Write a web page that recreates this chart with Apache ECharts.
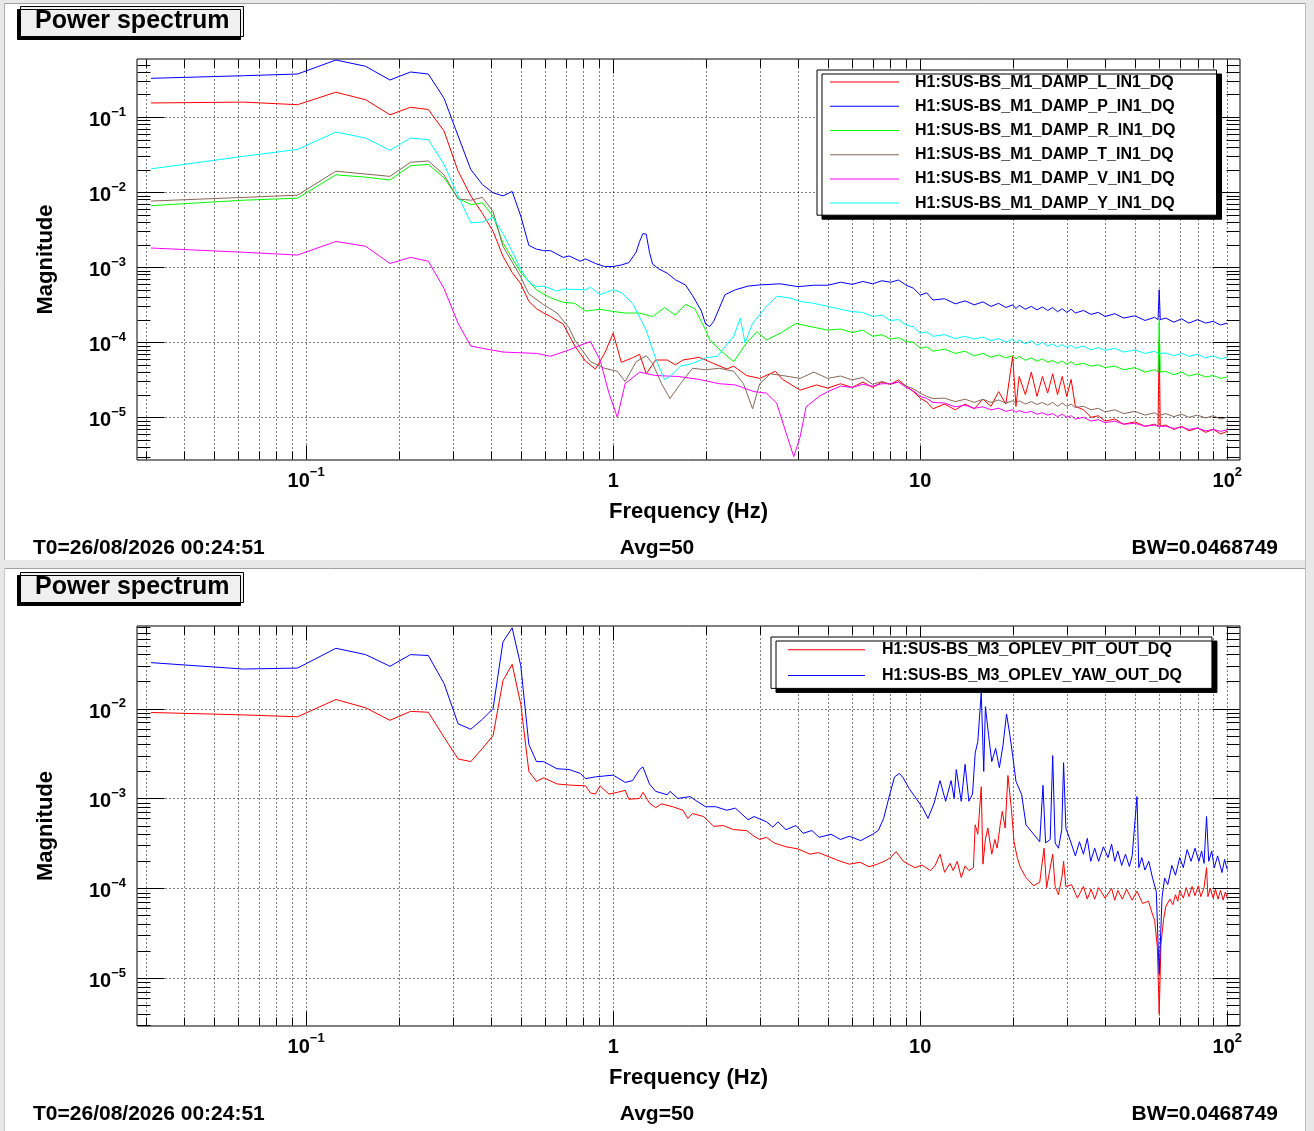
<!DOCTYPE html>
<html>
<head>
<meta charset="utf-8">
<script src="https://cdn.jsdelivr.net/npm/echarts@6/dist/echarts.min.js"></script>
<style>
html, body { margin: 0; padding: 0; background: #fff; }
#chart { width: 1314px; height: 1131px; }
</style>
</head>
<body>
<div id="chart"></div>
<script>
var FONT = '"Liberation Sans", Arial, Helvetica, sans-serif';

// axis ranges (Hz / magnitude)
var xRange = [0.028125, 110];
var yRangeTop = [2.7e-6, 0.593];
var yRangeBottom = [2.95e-6, 0.0828];
var tickExponents = [-6, -5, -4, -3, -2, -1, 0, 1, 2];
var tickMultipliers = [1, 2, 3, 4, 5, 6, 7, 8, 9];

var topNames = ['H1:SUS-BS_M1_DAMP_L_IN1_DQ', 'H1:SUS-BS_M1_DAMP_P_IN1_DQ', 'H1:SUS-BS_M1_DAMP_R_IN1_DQ',
  'H1:SUS-BS_M1_DAMP_T_IN1_DQ', 'H1:SUS-BS_M1_DAMP_V_IN1_DQ', 'H1:SUS-BS_M1_DAMP_Y_IN1_DQ'];
var topColors = ['#ff0000', '#0000ff', '#00ff00', '#876656', '#ff00ff', '#00ffff'];
var bottomNames = ['H1:SUS-BS_M3_OPLEV_PIT_OUT_DQ', 'H1:SUS-BS_M3_OPLEV_YAW_OUT_DQ'];
var bottomColors = ['#ff0000', '#0000ff'];

// first frequency bins, shared by every channel
var lowBins = [0.03125, 0.0625, 0.09375, 0.125, 0.15625, 0.1875, 0.21875, 0.25, 0.28125];
// high frequency grid of the top panel
var hiFreqTop = [5, 5.5, 6, 6.5, 7, 7.5, 8, 8.5, 9, 9.5,
  10, 10.5, 11, 12, 13, 14, 15, 16, 17, 18,
  19, 20, 20.5, 21, 22, 23, 24, 25, 26, 27,
  28, 29, 30, 31, 32, 34, 36, 38, 40, 43,
  46, 50, 54, 58, 59.5, 60, 60.5, 63, 67, 71,
  75, 80, 85, 90, 95, 100];

// ---- top panel: M1 DAMP channels ----
var lowL = [0.154, 0.158, 0.146, 0.214, 0.17, 0.107, 0.135, 0.126, 0.065];
var midL = [[0.3125, 1.9e-2], [0.34375, 8.9e-3], [0.375, 5.2e-3], [0.40625, 3.0e-3], [0.4375, 1.4e-3],
  [0.46875, 8.5e-4], [0.5, 6.0e-4], [0.53125, 3.5e-4], [0.5625, 2.8e-4], [0.59375, 2.45e-4], [0.625, 2.2e-4],
  [0.6875, 1.74e-4], [0.75, 8.9e-5], [0.8125, 5.6e-5], [0.875, 4.4e-5], [0.9375, 7.1e-5], [1.0, 1.32e-4],
  [1.0625, 5.4e-5], [1.15625, 6.2e-5], [1.21875, 6.9e-5], [1.28125, 3.8e-5], [1.375, 5.8e-5], [1.5, 5.8e-5],
  [1.59375, 5.0e-5], [1.6875, 5.8e-5], [1.90625, 6.3e-5], [2.125, 5.2e-5], [2.34375, 4.4e-5], [2.46875, 4.8e-5],
  [2.71875, 3.6e-5], [3.0, 3.3e-5], [3.375, 4.1e-5], [3.5625, 3.2e-5], [4.0625, 2.3e-5], [4.59375, 2.7e-5]];
var hiL = [2.45e-5, 2.8e-5, 2.5e-5, 2.95e-5, 2.5e-5, 2.95e-5, 2.75e-5, 3.15e-5, 2.6e-5, 2.2e-5,
  1.8e-5, 1.6e-5, 1.3e-5, 1.5e-5, 1.26e-5, 1.5e-5, 1.3e-5, 1.75e-5, 1.4e-5, 2.2e-5,
  1.5e-5, 6.5e-5, 1.4e-5, 3.5e-5, 2.0e-5, 4.0e-5, 1.9e-5, 3.5e-5, 2.1e-5, 3.8e-5,
  2.0e-5, 3.5e-5, 1.9e-5, 3.2e-5, 1.4e-5, 1.26e-5, 1.0e-5, 1.05e-5, 8.9e-6, 9.5e-6,
  8.1e-6, 8.7e-6, 7.6e-6, 8.1e-6, 7.6e-6, 1.07e-4, 7.6e-6, 7.9e-6, 6.9e-6, 7.6e-6,
  6.6e-6, 7.2e-6, 6.3e-6, 6.9e-6, 6.0e-6, 6.5e-6];

var lowP = [0.328, 0.355, 0.374, 0.575, 0.474, 0.311, 0.398, 0.374, 0.178];
var midP = [[0.3125, 5.6e-2], [0.34375, 2.0e-2], [0.375, 1.26e-2], [0.40625, 9.8e-3], [0.4375, 8.9e-3],
  [0.46875, 1.02e-2], [0.5, 4.8e-3], [0.53125, 1.95e-3], [0.5625, 1.74e-3], [0.59375, 1.66e-3], [0.625, 1.66e-3],
  [0.6875, 1.35e-3], [0.71875, 1.41e-3], [0.78125, 1.2e-3], [0.8125, 1.29e-3], [0.875, 1.12e-3], [0.9375, 1.02e-3],
  [1.0, 1.02e-3], [1.0625, 1.07e-3], [1.125, 1.15e-3], [1.1875, 1.58e-3], [1.21875, 2.2e-3], [1.25, 2.8e-3],
  [1.28125, 2.75e-3], [1.3125, 1.58e-3], [1.34375, 1.1e-3], [1.40625, 9.5e-4], [1.5, 8.3e-4], [1.59375, 6.8e-4],
  [1.71875, 5.8e-4], [1.8125, 4.2e-4], [1.9375, 2.6e-4], [2.0, 1.74e-4], [2.0625, 1.62e-4], [2.125, 1.9e-4],
  [2.3125, 4.3e-4], [2.5, 5.0e-4], [2.75, 5.6e-4], [3.0, 5.8e-4], [3.5, 6.0e-4], [4.0, 5.5e-4], [4.5, 5.75e-4]];
var hiP = [5.75e-4, 6.3e-4, 5.9e-4, 6.45e-4, 6.0e-4, 6.6e-4, 6.3e-4, 6.75e-4, 5.75e-4, 5.25e-4,
  4.25e-4, 4.55e-4, 3.65e-4, 3.8e-4, 3.25e-4, 3.55e-4, 3.15e-4, 3.45e-4, 3.0e-4, 3.3e-4,
  2.9e-4, 3.15e-4, 2.8e-4, 3.1e-4, 2.75e-4, 3.0e-4, 2.7e-4, 2.95e-4, 2.65e-4, 2.9e-4,
  2.55e-4, 2.8e-4, 2.5e-4, 2.75e-4, 2.45e-4, 2.65e-4, 2.35e-4, 2.5e-4, 2.2e-4, 2.4e-4,
  2.1e-4, 2.25e-4, 1.95e-4, 2.15e-4, 2.0e-4, 5.0e-4, 2.0e-4, 2.1e-4, 1.85e-4, 2.05e-4,
  1.8e-4, 2.0e-4, 1.8e-4, 1.9e-4, 1.7e-4, 1.8e-4];

var lowR = [0.0066, 0.0078, 0.0083, 0.017, 0.0158, 0.0145, 0.0224, 0.0234, 0.0155];
var midR = [[0.3125, 8.3e-3], [0.34375, 6.8e-3], [0.375, 7.2e-3], [0.40625, 4.8e-3], [0.4375, 2.1e-3],
  [0.46875, 1.32e-3], [0.5, 8.5e-4], [0.5625, 5.0e-4], [0.625, 3.9e-4], [0.6875, 3.4e-4], [0.75, 3.3e-4],
  [0.8125, 2.6e-4], [0.90625, 2.75e-4], [1.0, 2.57e-4], [1.09375, 2.45e-4], [1.21875, 2.45e-4], [1.34375, 2.2e-4],
  [1.46875, 2.9e-4], [1.59375, 2.3e-4], [1.71875, 3.2e-4], [1.84375, 2.8e-4], [2.0, 1.45e-4], [2.0625, 1.07e-4],
  [2.25, 7.6e-5], [2.46875, 5.5e-5], [2.71875, 9.8e-5], [2.9375, 1.38e-4], [3.15625, 1.07e-4], [3.5, 1.32e-4],
  [3.9375, 1.78e-4], [4.375, 1.62e-4]];
var hiR = [1.45e-4, 1.5e-4, 1.35e-4, 1.45e-4, 1.2e-4, 1.26e-4, 1.1e-4, 1.15e-4, 1.02e-4, 1.0e-4,
  8.3e-5, 8.7e-5, 7.6e-5, 8.1e-5, 7.1e-5, 7.6e-5, 6.6e-5, 7.1e-5, 6.3e-5, 6.8e-5,
  6.2e-5, 6.6e-5, 6.0e-5, 6.5e-5, 5.75e-5, 6.2e-5, 5.6e-5, 6.0e-5, 5.4e-5, 5.75e-5,
  5.25e-5, 5.6e-5, 5.1e-5, 5.5e-5, 5.0e-5, 5.25e-5, 4.8e-5, 5.0e-5, 4.6e-5, 4.8e-5,
  4.3e-5, 4.6e-5, 4.0e-5, 4.3e-5, 4.0e-5, 1.9e-4, 4.0e-5, 4.1e-5, 3.7e-5, 4.0e-5,
  3.55e-5, 3.8e-5, 3.45e-5, 3.6e-5, 3.3e-5, 3.45e-5];

var lowT = [0.0076, 0.0085, 0.0091, 0.019, 0.0174, 0.0162, 0.025, 0.026, 0.017];
var midT = [[0.3125, 8.1e-3], [0.34375, 7.8e-3], [0.375, 8.5e-3], [0.40625, 5.5e-3], [0.4375, 1.9e-3],
  [0.46875, 1.17e-3], [0.5, 7.4e-4], [0.53125, 4.4e-4], [0.59375, 3.16e-4], [0.65625, 2.45e-4], [0.71875, 1.55e-4],
  [0.75, 1.07e-4], [0.84375, 5.5e-5], [0.9375, 4.5e-5], [1.03125, 4.1e-5], [1.09375, 3.0e-5], [1.1875, 5.5e-5],
  [1.28125, 6.6e-5], [1.34375, 5.2e-5], [1.4375, 2.8e-5], [1.53125, 1.78e-5], [1.65625, 2.8e-5], [1.8125, 4.5e-5],
  [2.0, 4.3e-5], [2.21875, 4.5e-5], [2.46875, 4.1e-5], [2.65625, 2.8e-5], [2.84375, 1.3e-5], [3.0, 2.8e-5],
  [3.25, 3.8e-5], [3.5625, 3.6e-5], [4.0625, 3.3e-5], [4.5, 4.0e-5]];
var hiT = [3.3e-5, 3.55e-5, 3.15e-5, 3.4e-5, 2.75e-5, 3.0e-5, 2.75e-5, 2.95e-5, 2.6e-5, 2.4e-5,
  2.1e-5, 1.9e-5, 1.78e-5, 1.8e-5, 1.62e-5, 1.74e-5, 1.58e-5, 1.74e-5, 1.58e-5, 1.7e-5,
  1.55e-5, 1.66e-5, 1.55e-5, 1.66e-5, 1.5e-5, 1.62e-5, 1.48e-5, 1.58e-5, 1.45e-5, 1.58e-5,
  1.4e-5, 1.55e-5, 1.4e-5, 1.5e-5, 1.35e-5, 1.4e-5, 1.26e-5, 1.32e-5, 1.18e-5, 1.26e-5,
  1.12e-5, 1.2e-5, 1.07e-5, 1.15e-5, 1.07e-5, 1.12e-5, 1.07e-5, 1.12e-5, 1.02e-5, 1.1e-5,
  1.0e-5, 1.07e-5, 9.8e-6, 1.05e-5, 9.5e-6, 1.0e-5];

var lowV = [0.0018, 0.00158, 0.00145, 0.0022, 0.0019, 0.00112, 0.00135, 0.0012, 0.00052];
var midV = [[0.3125, 1.78e-4], [0.34375, 8.9e-5], [0.375, 8.3e-5], [0.4375, 7.4e-5], [0.5625, 7.1e-5],
  [0.625, 6.5e-5], [0.71875, 7.9e-5], [0.78125, 9.1e-5], [0.84375, 1.02e-4], [0.90625, 5.8e-5], [0.96875, 2.1e-5],
  [1.03125, 1.0e-5], [1.09375, 2.8e-5], [1.21875, 4.0e-5], [1.375, 3.6e-5], [1.625, 3.5e-5], [1.90625, 3.2e-5],
  [2.21875, 2.8e-5], [2.5, 2.7e-5], [2.875, 2.2e-5], [3.15625, 2.1e-5], [3.40625, 1.55e-5], [3.65625, 6.2e-6],
  [3.875, 3.0e-6], [4.0625, 5.5e-6], [4.25, 1.38e-5], [4.6875, 1.9e-5]];
var hiV = [2.2e-5, 2.6e-5, 2.5e-5, 2.75e-5, 2.6e-5, 2.8e-5, 2.8e-5, 2.95e-5, 2.5e-5, 2.25e-5,
  1.9e-5, 1.78e-5, 1.58e-5, 1.55e-5, 1.38e-5, 1.45e-5, 1.32e-5, 1.38e-5, 1.26e-5, 1.32e-5,
  1.2e-5, 1.26e-5, 1.17e-5, 1.23e-5, 1.15e-5, 1.2e-5, 1.1e-5, 1.15e-5, 1.07e-5, 1.12e-5,
  1.02e-5, 1.1e-5, 1.0e-5, 1.05e-5, 9.5e-6, 1.0e-5, 8.9e-6, 9.3e-6, 8.5e-6, 8.9e-6,
  8.1e-6, 8.3e-6, 7.6e-6, 7.9e-6, 7.6e-6, 7.8e-6, 7.6e-6, 7.6e-6, 7.1e-6, 7.4e-6,
  6.9e-6, 7.2e-6, 6.6e-6, 6.9e-6, 6.5e-6, 6.8e-6];

var lowY = [0.0204, 0.030, 0.037, 0.063, 0.0525, 0.036, 0.0525, 0.05, 0.0235];
var midY = [[0.3125, 8.9e-3], [0.34375, 3.9e-3], [0.375, 4.0e-3], [0.40625, 4.6e-3], [0.4375, 2.8e-3],
  [0.46875, 1.62e-3], [0.5, 9.5e-4], [0.53125, 6.3e-4], [0.5625, 5.5e-4], [0.59375, 5.6e-4], [0.65625, 4.8e-4],
  [0.6875, 5.1e-4], [0.8125, 5.0e-4], [0.84375, 5.4e-4], [0.90625, 4.3e-4], [1.0, 5.0e-4], [1.0625, 4.6e-4],
  [1.15625, 3.3e-4], [1.28125, 1.45e-4], [1.375, 6.0e-5], [1.46875, 3.2e-5], [1.53125, 3.5e-5], [1.65625, 4.8e-5],
  [1.8125, 5.2e-5], [2.0, 6.2e-5], [2.1875, 6.5e-5], [2.3125, 8.7e-5], [2.46875, 1.2e-4], [2.59375, 2.1e-4],
  [2.6875, 9.8e-5], [2.84375, 1.78e-4], [3.15625, 3.0e-4], [3.40625, 4.1e-4], [3.75, 3.9e-4], [4.0625, 3.5e-4],
  [4.5, 3.3e-4]];
var hiY = [3.0e-4, 2.75e-4, 2.55e-4, 2.5e-4, 2.2e-4, 2.3e-4, 1.95e-4, 2.0e-4, 1.7e-4, 1.6e-4,
  1.32e-4, 1.38e-4, 1.2e-4, 1.26e-4, 1.12e-4, 1.2e-4, 1.1e-4, 1.17e-4, 1.05e-4, 1.12e-4,
  1.0e-4, 1.1e-4, 9.8e-5, 1.07e-4, 9.5e-5, 1.05e-4, 9.1e-5, 1.0e-4, 8.9e-5, 9.5e-5,
  8.7e-5, 9.3e-5, 8.5e-5, 9.1e-5, 8.3e-5, 8.9e-5, 7.9e-5, 8.5e-5, 7.8e-5, 8.3e-5,
  7.4e-5, 7.9e-5, 7.1e-5, 7.6e-5, 7.1e-5, 7.4e-5, 7.1e-5, 7.2e-5, 6.6e-5, 7.1e-5,
  6.5e-5, 6.9e-5, 6.2e-5, 6.6e-5, 6.0e-5, 6.3e-5];

// ---- bottom panel: M3 optical lever ----
var lowPIT = [0.00904, 0.0085, 0.0081, 0.0126, 0.0102, 0.0074, 0.0093, 0.0091, 0.0048];
var restPIT = [[0.3125, 2.75e-3], [0.34375, 2.57e-3], [0.375, 3.6e-3], [0.40625, 5.0e-3], [0.4375, 2.04e-2],
  [0.46875, 3.1e-2], [0.5, 1.12e-2], [0.53125, 2.0e-3], [0.5625, 1.55e-3], [0.59375, 1.7e-3], [0.65625, 1.45e-3],
  [0.71875, 1.41e-3], [0.8125, 1.38e-3], [0.84375, 1.15e-3], [0.875, 1.12e-3], [0.90625, 1.38e-3], [0.96875, 1.12e-3],
  [1.03125, 1.17e-3], [1.09375, 1.23e-3], [1.125, 9.8e-4], [1.21875, 1.0e-3], [1.25, 1.17e-3], [1.3125, 8.9e-4],
  [1.375, 7.9e-4], [1.4375, 8.7e-4], [1.5625, 8.1e-4], [1.6875, 7.4e-4], [1.75, 6.0e-4], [1.8125, 6.8e-4],
  [1.96875, 6.3e-4], [2.125, 4.9e-4], [2.28125, 5.0e-4], [2.46875, 4.5e-4], [2.71875, 4.4e-4], [2.875, 3.8e-4],
  [3.0, 3.5e-4], [3.15625, 3.7e-4], [3.34375, 3.2e-4], [3.65625, 2.9e-4], [4.0, 2.75e-4], [4.375, 2.4e-4],
  [4.65625, 2.5e-4], [5.125, 2.2e-4], [5.5, 2.0e-4], [5.875, 1.86e-4], [6.375, 1.95e-4], [6.8125, 1.74e-4],
  [7.25, 1.86e-4], [7.625, 2.0e-4], [8.0, 2.2e-4], [8.34375, 2.57e-4], [8.8125, 2.0e-4], [9.25, 1.82e-4],
  [9.625, 1.7e-4], [10.125, 1.82e-4], [10.8, 1.58e-4], [11.2, 1.82e-4], [11.6, 2.4e-4], [12.0, 1.51e-4],
  [12.5, 1.9e-4], [12.8, 1.58e-4], [13.2, 2.0e-4], [13.6, 1.32e-4], [14.0, 1.78e-4], [14.4, 1.58e-4],
  [14.9, 1.7e-4], [15.1, 5.1e-4], [15.4, 4.0e-4], [15.8, 1.35e-3], [16.0, 1.86e-4], [16.3, 3.5e-4],
  [16.6, 4.7e-4], [17.1, 2.4e-4], [17.5, 3.5e-4], [17.8, 2.8e-4], [18.2, 5.0e-4], [18.5, 7.2e-4],
  [18.9, 4.7e-4], [19.3, 1.8e-3], [19.8, 7.8e-4], [20.2, 3.3e-4], [20.7, 2.2e-4], [21.2, 1.7e-4],
  [22.1, 1.32e-4], [23.4, 1.07e-4], [24.5, 1.17e-4], [25.3, 2.8e-4], [25.8, 1.02e-4], [27.0, 2.4e-4],
  [27.5, 1.05e-4], [28.2, 8.5e-5], [29.0, 1.41e-4], [29.3, 2.0e-4], [29.8, 1.05e-4], [31.1, 1.1e-4],
  [32.5, 7.8e-5], [34.0, 1.05e-4], [35, 7.6e-5], [36, 9.8e-5], [37, 7.6e-5], [38.1, 1.02e-4], [40, 7.8e-5],
  [42, 1.0e-4], [43, 7.4e-5], [44, 9.5e-5], [45.5, 7.6e-5], [47, 9.8e-5], [49, 7.4e-5], [50.8, 9.3e-5],
  [53, 6.8e-5], [55.4, 7.2e-5], [57, 5.2e-5], [58, 4.4e-5], [59.2, 2.2e-5], [60, 4.0e-6], [60.8, 2.4e-5],
  [62, 4.5e-5], [63, 6.2e-5], [65, 7.6e-5], [66.5, 6.6e-5], [67.8, 8.5e-5], [69, 7.2e-5], [70, 9.5e-5],
  [71.9, 7.8e-5], [73.5, 1.02e-4], [75, 8.1e-5], [76.8, 1.05e-4], [78.5, 8.3e-5], [80.5, 1.07e-4], [82, 8.1e-5],
  [84, 1.02e-4], [85.6, 1.7e-4], [86.5, 8.1e-5], [88, 1.0e-4], [90, 7.8e-5], [91.5, 9.8e-5], [93.3, 7.6e-5],
  [95, 9.5e-5], [97, 7.4e-5], [98.5, 9.1e-5], [100, 7.9e-5]];

var lowYAW = [0.0324, 0.0275, 0.0282, 0.0468, 0.0398, 0.0295, 0.0398, 0.0389, 0.019];
var restYAW = [[0.3125, 6.76e-3], [0.34375, 5.89e-3], [0.375, 7.6e-3], [0.40625, 1.0e-2], [0.4375, 5.5e-2],
  [0.46875, 7.9e-2], [0.5, 3.0e-2], [0.53125, 4.0e-3], [0.5625, 2.57e-3], [0.59375, 2.57e-3], [0.65625, 2.14e-3],
  [0.71875, 2.1e-3], [0.78125, 1.9e-3], [0.8125, 1.66e-3], [0.875, 1.74e-3], [0.9375, 1.78e-3], [1.0, 1.82e-3],
  [1.09375, 1.51e-3], [1.15625, 1.58e-3], [1.21875, 2.1e-3], [1.25, 2.24e-3], [1.3125, 1.45e-3], [1.375, 1.2e-3],
  [1.5, 1.1e-3], [1.53125, 1.2e-3], [1.625, 1.0e-3], [1.78125, 1.05e-3], [1.875, 9.3e-4], [2.0, 8.1e-4],
  [2.15625, 8.1e-4], [2.34375, 7.4e-4], [2.5, 7.8e-4], [2.75, 5.8e-4], [2.875, 6.3e-4], [3.15625, 5.5e-4],
  [3.3125, 4.8e-4], [3.4375, 5.5e-4], [3.65625, 4.5e-4], [3.9375, 5.0e-4], [4.15625, 4.1e-4], [4.4375, 4.4e-4],
  [4.6875, 3.7e-4], [5.125, 4.0e-4], [5.5, 3.5e-4], [5.875, 3.8e-4], [6.4, 3.4e-4], [7.0, 4.0e-4], [7.3, 4.4e-4],
  [7.6, 6.0e-4], [7.95, 1.1e-3], [8.25, 1.74e-3], [8.55, 1.9e-3], [8.8, 1.7e-3], [9.2, 1.29e-3], [9.6, 1.05e-3],
  [10.2, 7.8e-4], [10.6, 6.0e-4], [11.1, 8.9e-4], [11.6, 1.58e-3], [12.1, 9.3e-4], [12.6, 1.58e-3], [12.9, 1.0e-3],
  [13.1, 2.1e-3], [13.6, 9.3e-4], [14.0, 2.4e-3], [14.4, 9.3e-4], [14.8, 1.12e-3], [15.1, 3.2e-3], [15.4, 4.3e-3],
  [15.8, 1.51e-2], [16.1, 2.0e-3], [16.3, 1.05e-2], [16.7, 5.0e-3], [17.1, 2.57e-3], [17.6, 3.6e-3],
  [18.1, 2.2e-3], [18.6, 3.9e-3], [19.1, 8.7e-3], [19.6, 5.0e-3], [20.0, 3.0e-3], [20.5, 1.55e-3], [21.4, 1.1e-3],
  [22.1, 5.1e-4], [23.4, 4.0e-4], [24.5, 3.3e-4], [25.1, 1.4e-3], [25.6, 3.2e-4], [26.5, 3.5e-4], [27.0, 3.0e-3],
  [27.5, 3.2e-4], [28.2, 2.8e-4], [28.9, 4.5e-4], [29.3, 2.5e-3], [29.8, 4.7e-4], [31.0, 3.2e-4], [32.0, 2.3e-4],
  [33, 3.3e-4], [34.0, 2.4e-4], [35, 3.6e-4], [35.9, 2.0e-4], [37, 2.8e-4], [38.1, 2.0e-4], [39.5, 2.9e-4],
  [40.9, 2.2e-4], [42, 3.1e-4], [43, 2.0e-4], [44, 2.6e-4], [45.3, 1.8e-4], [46.6, 2.4e-4], [48, 1.75e-4],
  [49, 2.3e-4], [50.8, 1.05e-3], [51.5, 1.7e-4], [52.7, 2.2e-4], [53.9, 1.6e-4], [55.5, 2.0e-4], [57.1, 1.3e-4],
  [58.7, 9.3e-5], [60, 1.12e-5], [61.3, 7.9e-5], [62.5, 1.3e-4], [64, 1.1e-4], [66, 1.8e-4], [67.8, 1.4e-4],
  [70, 2.2e-4], [71.9, 1.7e-4], [74, 2.7e-4], [76.2, 2.0e-4], [78.5, 2.8e-4], [80.8, 2.0e-4], [82.5, 2.6e-4],
  [84, 1.9e-4], [85.6, 6.3e-4], [87, 2.0e-4], [89, 2.6e-4], [90.7, 1.7e-4], [93, 2.3e-4], [96.1, 1.5e-4],
  [98, 2.1e-4], [100, 1.62e-4]];

function pairs(freqs, mags) {
  return freqs.map(function(f, i) { return [f, mags[i]]; });
}

function topSpectrum(low, mid, hi) {
  return pairs(lowBins, low).concat(mid, pairs(hiFreqTop, hi));
}

function powerLabel(value) {
  var e = Math.log10(value);
  var r = Math.round(e);
  if (Math.abs(e - r) > 1e-6) return '';
  if (r === 0) return '{b|1}';
  if (r === 1) return '{b|10}';
  return '{b|10}{s|' + (r < 0 ? '\u2212' + (-r) : r) + '}';
}

var labelRich = {
  b: {fontFamily: FONT, fontSize: 20, fontWeight: 'bold', color: '#000', lineHeight: 30},
  s: {fontFamily: FONT, fontSize: 13, fontWeight: 'bold', color: '#000', lineHeight: 16, verticalAlign: 'top'}
};
var nameStyle = {fontFamily: FONT, fontSize: 22, fontWeight: 'bold', color: '#000'};

function xAxisFor(gridIndex) {
  return {
    type: 'log', logBase: 10, gridIndex: gridIndex, min: xRange[0], max: xRange[1],
    axisLine: {show: false}, axisTick: {show: false}, splitLine: {show: false}, minorTick: {show: false},
    axisLabel: {formatter: powerLabel, rich: labelRich, margin: 6, showMinLabel: false, showMaxLabel: false},
    name: 'Frequency (Hz)', nameLocation: 'middle', nameGap: 41, nameTextStyle: nameStyle,
    nameMoveOverlap: false
  };
}

function yAxisFor(gridIndex, range) {
  return {
    type: 'log', logBase: 10, gridIndex: gridIndex, min: range[0], max: range[1],
    axisLine: {show: false}, axisTick: {show: false}, splitLine: {show: false}, minorTick: {show: false},
    axisLabel: {formatter: powerLabel, rich: labelRich, margin: 11, padding: [7, 0, 0, 0],
      showMinLabel: false, showMaxLabel: false},
    name: 'Magnitude', nameLocation: 'middle', nameGap: 80, nameTextStyle: nameStyle,
    nameMoveOverlap: false
  };
}

// ROOT style ticks and dotted grid, placed through the axes
function frameDecor(gridIndex, yRange) {
  return {
    type: 'custom', xAxisIndex: gridIndex, yAxisIndex: gridIndex,
    silent: true, clip: false, z: 1,
    data: [[1, yRange[0]]],
    renderItem: function(params, api) {
      var cs = params.coordSys;
      var left = cs.x + 0.5, right = cs.x + cs.width - 0.5;
      var top = cs.y + 0.5, bottom = cs.y + cs.height - 0.5;
      var solid = {stroke: '#000', lineWidth: 1};
      var dotted = {stroke: '#000', lineWidth: 1, lineDash: [1, 3]};
      var kids = [];
      function seg(x1, y1, x2, y2, style) {
        kids.push({type: 'line', shape: {x1: x1, y1: y1, x2: x2, y2: y2}, style: style});
      }
      tickExponents.forEach(function(e) {
        tickMultipliers.forEach(function(m) {
          var v = m * Math.pow(10, e);
          if (v > xRange[0] && v < xRange[1]) {
            var px = Math.round(api.coord([v, yRange[0]])[0]) + 0.5;
            var len = m === 1 ? 14 : 8;
            seg(px, top, px, bottom, dotted);
            seg(px, bottom, px, bottom - len, solid);
            seg(px, top, px, top + len, solid);
          }
          if (v > yRange[0] && v < yRange[1]) {
            var py = Math.round(api.coord([1, v])[1]) + 0.5;
            var ylen = m === 1 ? 27 : 13;
            if (m === 1) seg(left, py, right, py, dotted);
            seg(left, py, left + ylen, py, solid);
            seg(right, py, right - ylen, py, solid);
          }
        });
      });
      return {type: 'group', children: kids};
    }
  };
}

function lineSeries(name, color, gridIndex, data) {
  return {
    name: name, type: 'line', xAxisIndex: gridIndex, yAxisIndex: gridIndex,
    data: data, showSymbol: false, symbol: 'none', color: color,
    lineStyle: {color: color, width: 1}, z: 2, silent: true
  };
}

function legendFor(names, left, top, lineW, rowH, pad, textGap) {
  return {
    data: names, orient: 'vertical', left: left, top: top, selectedMode: false,
    icon: 'rect', itemWidth: lineW, itemHeight: 1, itemGap: 0, padding: pad,
    backgroundColor: '#fff', borderColor: '#000', borderWidth: 1, borderRadius: 0,
    shadowColor: '#000', shadowBlur: 0, shadowOffsetX: 5, shadowOffsetY: 4,
    textStyle: {fontFamily: FONT, fontSize: 16, fontWeight: 'bold', color: '#000',
      lineHeight: rowH, padding: [0, 0, 0, textGap]},
    z: 10
  };
}

function titleBox(top) {
  return {
    text: 'Power spectrum', left: 20, top: top, padding: [1, 14, 1, 15],
    backgroundColor: '#f0f0f0', borderColor: '#000', borderWidth: 1,
    shadowColor: '#000', shadowBlur: 0, shadowOffsetX: -3, shadowOffsetY: 3,
    textStyle: {fontFamily: FONT, fontSize: 25, fontWeight: 'bold', color: '#000', lineHeight: 29}
  };
}

function footer(y) {
  var font = 'bold 21px ' + FONT;
  return [
    {type: 'text', style: {x: 33, y: y, text: 'T0=26/08/2026 00:24:51', font: font, fill: '#000', textAlign: 'left', textVerticalAlign: 'middle'}},
    {type: 'text', style: {x: 657, y: y, text: 'Avg=50', font: font, fill: '#000', textAlign: 'center', textVerticalAlign: 'middle'}},
    {type: 'text', style: {x: 1278, y: y, text: 'BW=0.0468749', font: font, fill: '#000', textAlign: 'right', textVerticalAlign: 'middle'}}
  ];
}

var canvasBits = [
  {type: 'rect', shape: {x: 0, y: 0, width: 1314, height: 3}, style: {fill: '#e8e8e8'}},
  {type: 'rect', shape: {x: 0, y: 0, width: 4, height: 1131}, style: {fill: '#e8e8e8'}},
  {type: 'rect', shape: {x: 1306, y: 0, width: 8, height: 1131}, style: {fill: '#e8e8e8'}},
  {type: 'rect', shape: {x: 0, y: 560, width: 1314, height: 8}, style: {fill: '#e8e8e8'}},
  {type: 'line', shape: {x1: 4, y1: 3.5, x2: 1306, y2: 3.5}, style: {stroke: '#a0a0a0', lineWidth: 1}},
  {type: 'line', shape: {x1: 4, y1: 568.5, x2: 1306, y2: 568.5}, style: {stroke: '#a0a0a0', lineWidth: 1}},
  {type: 'line', shape: {x1: 4.5, y1: 3, x2: 4.5, y2: 560}, style: {stroke: '#b0b0b0', lineWidth: 1}},
  {type: 'line', shape: {x1: 4.5, y1: 568, x2: 4.5, y2: 1131}, style: {stroke: '#c8c8c8', lineWidth: 1}},
  {type: 'line', shape: {x1: 1305.5, y1: 3, x2: 1305.5, y2: 1131}, style: {stroke: '#c0c0c0', lineWidth: 1}}
];

var topData = [
  topSpectrum(lowL, midL, hiL), topSpectrum(lowP, midP, hiP), topSpectrum(lowR, midR, hiR),
  topSpectrum(lowT, midT, hiT), topSpectrum(lowV, midV, hiV), topSpectrum(lowY, midY, hiY)
];
var bottomData = [
  pairs(lowBins, lowPIT).concat(restPIT),
  pairs(lowBins, lowYAW).concat(restYAW)
];

var series = [frameDecor(0, yRangeTop), frameDecor(1, yRangeBottom)];
topNames.forEach(function(n, i) { series.push(lineSeries(n, topColors[i], 0, topData[i])); });
bottomNames.forEach(function(n, i) { series.push(lineSeries(n, bottomColors[i], 1, bottomData[i])); });

var chart = echarts.init(document.getElementById('chart'), null, {renderer: 'canvas'});
option = {
  animation: false,
  backgroundColor: '#fff',
  title: [titleBox(6), titleBox(572)],
  legend: [
    legendFor(topNames, 817, 70, 69, 24.2, [0, 41, 0, 13], 11),
    legendFor(bottomNames, 771, 637, 77, 25.7, [0, 30, 0, 17], 12)
  ],
  grid: [
    {left: 137, top: 59, width: 1103, height: 401, show: true, borderColor: '#000', borderWidth: 1,
      backgroundColor: 'transparent', containLabel: false, outerBoundsMode: 'none'},
    {left: 137, top: 626, width: 1103, height: 400, show: true, borderColor: '#000', borderWidth: 1,
      backgroundColor: 'transparent', containLabel: false, outerBoundsMode: 'none'}
  ],
  xAxis: [xAxisFor(0), xAxisFor(1)],
  yAxis: [yAxisFor(0, yRangeTop), yAxisFor(1, yRangeBottom)],
  graphic: canvasBits.concat(footer(548), footer(1114)),
  series: series
};
chart.setOption(option);
</script>
</body>
</html>
